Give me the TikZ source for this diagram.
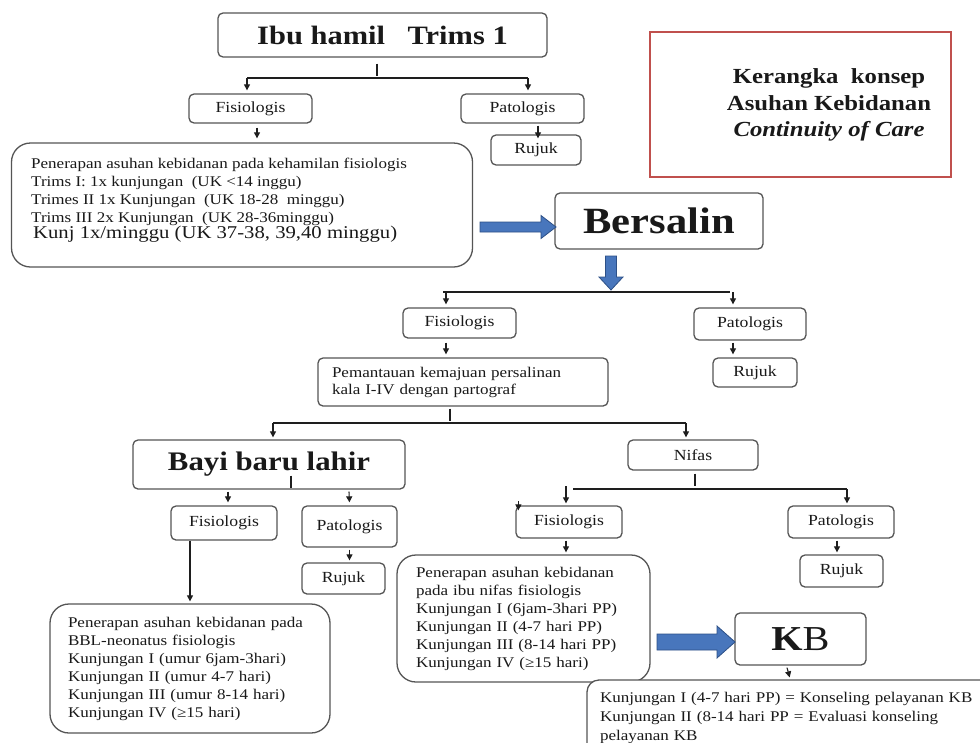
\documentclass[tikz,border=0pt]{standalone}
\usepackage{fontspec}
\setmainfont{Liberation Serif}[FakeStretch=1.15]
\usetikzlibrary{arrows.meta}
\definecolor{boxc}{RGB}{85,85,85}
\definecolor{linec}{RGB}{30,30,30}
\definecolor{txtc}{RGB}{25,25,25}
\definecolor{redc}{RGB}{192,80,77}
\definecolor{bluef}{RGB}{72,118,188}
\definecolor{blued}{RGB}{45,80,135}
\begin{document}
\begin{tikzpicture}[x=1pt,y=-1pt,
  box/.style={draw=boxc, line width=1.3pt, rounded corners=5pt, inner sep=0pt, fill=white, text=txtc},
  lbl/.style={box, font=\fontsize{15.4}{17}\selectfont},
  title/.style={box, font=\bfseries\fontsize{26.5}{30}\selectfont},
  bigbox/.style={box, rounded corners=19pt, align=left},
  small/.style={font=\fontsize{14.8}{18}\selectfont},
  con/.style={draw=linec, line width=1.1pt},
  arr/.style={con, -{Triangle[length=6pt,width=6pt]}, shorten >=1pt},
  blockarrow/.style={fill=bluef, draw=blued, line width=0.8pt},
]
\clip (0,0) rectangle (980,742);
\fill[white] (0,0) rectangle (980,742);

% ---- Kehamilan
\node[title, minimum width=329pt, minimum height=44pt] (A) at (382.5,35) {Ibu hamil\hspace{0.85em}Trims 1};
\node[lbl, minimum width=123pt, minimum height=29pt] (F1) at (250.5,108.5) {Fisiologis};
\node[lbl, minimum width=123pt, minimum height=29pt] (P1) at (522.5,108.5) {Patologis};
\node[lbl, minimum width=90pt, minimum height=30pt] (R1) at (536,150) {Rujuk};
\node[bigbox, minimum width=461pt, minimum height=124pt] (T1) at (242,205) {};
\node[small, anchor=north west, align=left, inner sep=0pt, text=txtc] (T1t) at (31,158)
  {Penerapan asuhan kebidanan pada kehamilan fisiologis\\
   Trims I: 1x kunjungan\ \ (UK <14 inggu)\\
   Trimes II 1x Kunjungan\ \ (UK 18-28\ \ minggu)\\
   Trims III 2x Kunjungan\ \ (UK 28-36minggu)};
\node[anchor=base west, inner sep=0pt, text=txtc, font=\fontsize{18}{20}\selectfont] (T1k) at (33,238)
  {Kunj 1x/minggu (UK 37-38, 39,40 minggu)};

\coordinate (s1) at (247,78);
\coordinate (s2) at (528,78);
\draw[con] ([xshift=-5.5pt,yshift=-6pt]A.south) -- ++(0,12);
\draw[con] (s1) -- (s2);
\draw[arr, shorten >=3pt] (s1) -- (s1 |- F1.north);
\draw[arr, shorten >=3pt] (s2) -- (s2 |- P1.north);
\draw[arr] ([xshift=6.5pt,yshift=-4pt]F1.south) -- ([xshift=15pt,yshift=3pt]T1.north);
\draw[arr] ([xshift=15.5pt,yshift=-2pt]P1.south) -- ([xshift=2pt,yshift=-5pt]R1.north);

% ---- title box
\node[draw=redc, line width=2pt, minimum width=301pt, minimum height=145pt, inner sep=0pt] (K) at (800.5,104.5) {};
\node[align=center, text=txtc, font=\bfseries\fontsize{21.5}{26.5}\selectfont] (Kt) at (829,105)
  {Kerangka\ \ konsep\\Asuhan Kebidanan\\\textit{Continuity of Care}};

% ---- Bersalin
\node[box, font=\bfseries\fontsize{37}{40}\selectfont, minimum width=208pt, minimum height=56pt] (B) at (659,221) {Bersalin};
\draw[blockarrow] (480,222) -- (541,222) -- (541,215.5) -- (556,227) -- (541,238.5) -- (541,232) -- (480,232) -- cycle;
\draw[blockarrow] (605.5,256) -- (616.5,256) -- (616.5,277) -- (623,277) -- (611,290) -- (599,277) -- (605.5,277) -- cycle;

\node[lbl, minimum width=113pt, minimum height=30pt] (F2) at (459.5,323) {Fisiologis};
\node[lbl, minimum width=112pt, minimum height=32pt] (P2) at (750,324) {Patologis};
\node[box, small, font=\fontsize{14.8}{17}\selectfont, align=left, text width=262pt, inner xsep=14pt, minimum width=290pt, minimum height=48pt] (Pm) at (463,382)
  {Pemantauan kemajuan persalinan\\kala I-IV dengan partograf};
\node[lbl, minimum width=84pt, minimum height=29pt] (R2) at (755,372.5) {Rujuk};

\coordinate (s3) at (446,292);
\coordinate (s4) at (733,292);
\draw[con] ([xshift=-3pt]s3) -- ([xshift=-3pt]s4);
\draw[arr, shorten >=3pt] (s3) -- (s3 |- F2.north);
\draw[arr, shorten >=3pt] (s4) -- (s4 |- P2.north);
\draw[arr] ([xshift=-13.5pt,yshift=-4pt]F2.south) -- ([xshift=-17pt,yshift=2pt]Pm.north);
\draw[arr] ([xshift=-17pt,yshift=-2pt]P2.south) -- ([xshift=-22pt,yshift=2pt]R2.north);
\draw[con] ([xshift=-13pt,yshift=-2pt]Pm.south) -- ++(0,12);

% ---- Bayi baru lahir
\coordinate (s5) at (273,423);
\coordinate (s6) at (686,423);
\node[title, font=\bfseries\fontsize{26.8}{30}\selectfont, minimum width=272pt, minimum height=49pt] (Bayi) at (269,464.5) {Bayi baru lahir};
\node[lbl, minimum width=130pt, minimum height=30pt] (Nf) at (693,455) {Nifas};
\draw[con] (s5) -- (s6);
\draw[arr, shorten >=2pt] (s5) -- (s5 |- Bayi.north);
\draw[arr, shorten >=2pt] (s6) -- (s6 |- Nf.north);
\draw[con] ([xshift=22pt,yshift=14pt]Bayi.south) -- ++(0,12);

\node[lbl, minimum width=106pt, minimum height=34pt] (F3) at (224,523) {Fisiologis};
\node[lbl, minimum width=95pt, minimum height=41pt] (P3) at (349.5,526.5) {Patologis};
\node[lbl, minimum width=83pt, minimum height=31pt] (R3) at (343.5,578.5) {Rujuk};
\node[bigbox, small, text width=244pt, inner xsep=18pt, minimum width=280pt, minimum height=129pt, text=txtc] (BBL) at (190,668.5)
  {Penerapan asuhan kebidanan pada\\
   BBL-neonatus fisiologis\\
   Kunjungan I (umur 6jam-3hari)\\
   Kunjungan II (umur 4-7 hari)\\
   Kunjungan III (umur 8-14 hari)\\
   Kunjungan IV (≥15 hari)};
\draw[arr] ([xshift=-41pt,yshift=-2pt]Bayi.south) -- ([xshift=4pt,yshift=2pt]F3.north);
\draw[arr] ([xshift=80pt,yshift=-2pt]Bayi.south) -- ([yshift=2pt]P3.north);
\draw[arr] ([yshift=-2pt]P3.south) -- ([xshift=6pt,yshift=1pt]R3.north);
\draw[arr] ([xshift=-34pt]F3.south) -- ([yshift=1pt]BBL.north);

% ---- Nifas
\coordinate (s7) at (573,489);
\coordinate (s8) at (847,489);
\coordinate (s9) at (566,486);
\node[lbl, minimum width=106pt, minimum height=32pt] (F4) at (569,522) {Fisiologis};
\node[lbl, minimum width=106pt, minimum height=32pt] (P4) at (841,522) {Patologis};
\node[lbl, minimum width=83pt, minimum height=32pt] (R4) at (841.5,571) {Rujuk};
\draw[con] ([xshift=2pt,yshift=-3pt]Nf.south) -- ++(0,12);
\draw[con] (s7) -- (s8);
\draw[arr, shorten >=2pt] (s9) -- (s9 |- F4.north);
\draw[arr, shorten >=2pt] (s8) -- (s8 |- P4.north);
\draw[arr] ([xshift=3pt,yshift=4pt]F4.north west) -- ++(0,10);
\node[bigbox, small, text width=215pt, inner xsep=19pt, minimum width=253pt, minimum height=127pt, text=txtc] (N) at (523.5,618.5)
  {Penerapan asuhan kebidanan\\
   pada ibu nifas fisiologis\\
   Kunjungan I (6jam-3hari PP)\\
   Kunjungan II (4-7 hari PP)\\
   Kunjungan III (8-14 hari PP)\\
   Kunjungan IV (≥15 hari)};
\draw[arr] ([xshift=-3pt,yshift=-2pt]F4.south) -- ([xshift=42.5pt,yshift=1pt]N.north);
\draw[arr] ([xshift=-4pt,yshift=-2pt]P4.south) -- ([xshift=-4.5pt,yshift=1pt]R4.north);

% ---- KB
\node[box, font=\fontsize{35}{38}\selectfont, minimum width=131pt, minimum height=52pt] (KB) at (800.5,639) {\textbf{K}B};
\draw[blockarrow] (657,634) -- (717,634) -- (717,626) -- (735,642) -- (717,658) -- (717,650) -- (657,650) -- cycle;
\node[box, rounded corners=12pt, small, font=\fontsize{14.8}{19}\selectfont, align=left, text width=407pt, inner xsep=13pt, minimum width=433pt, minimum height=76pt] (KBt) at (803.5,718)
  {Kunjungan I (4-7 hari PP) = Konseling pelayanan KB\\
   Kunjungan II (8-14 hari PP = Evaluasi konseling\\
   pelayanan KB};
\draw[arr] ([xshift=-13.5pt,yshift=-2pt]KB.south) -- ([xshift=-13.5pt,yshift=1pt]KBt.north);
\end{tikzpicture}
\end{document}
